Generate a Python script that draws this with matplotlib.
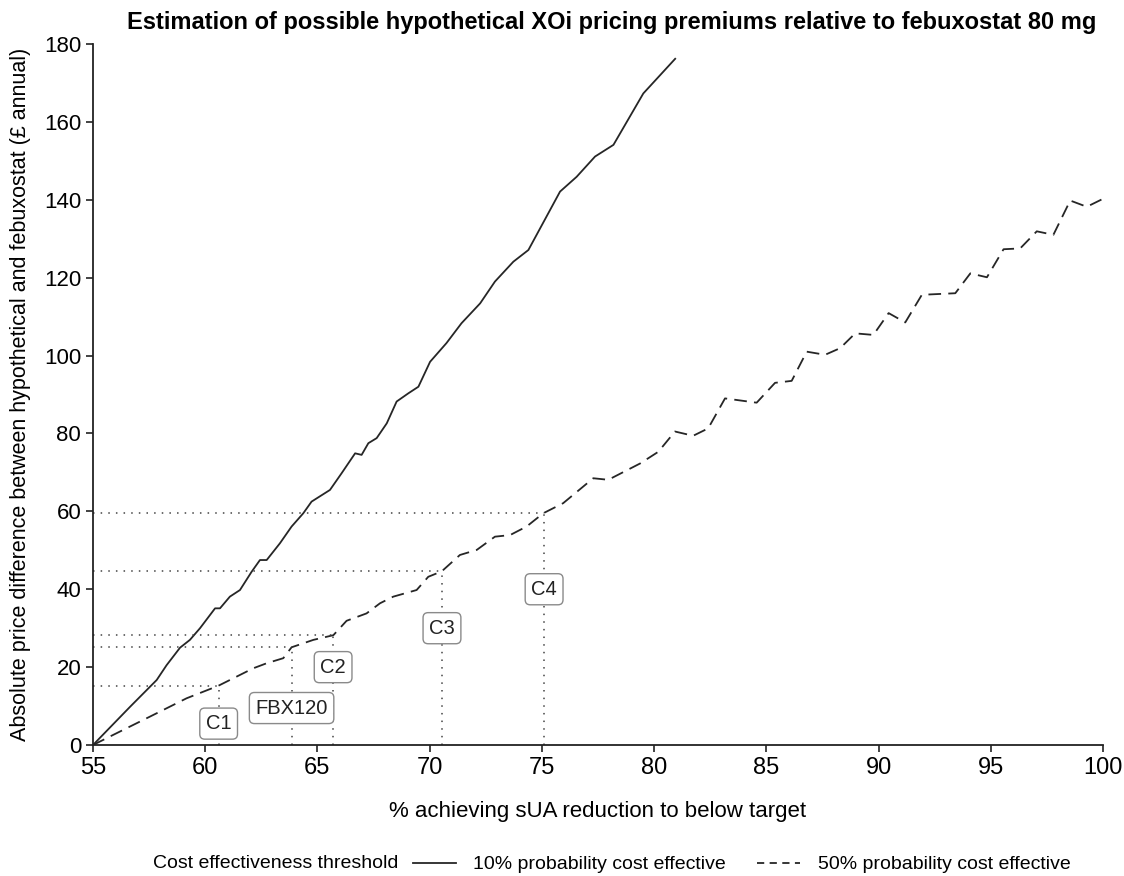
import matplotlib.pyplot as plt
from matplotlib.lines import Line2D

# 10% probability cost effective threshold
solid_x = [55, 56.65, 57.84, 58.28, 58.88, 59.32, 59.77, 60.44, 60.66, 61.10, 61.55,
           62.07, 62.44, 62.74, 63.33, 63.85, 64.37, 64.74, 65.56, 66.08, 66.68, 66.97,
           67.27, 67.64, 68.09, 68.53, 69.05, 69.50, 70.02, 70.75, 71.42, 72.25, 72.91,
           73.73, 74.40, 75.81, 76.55, 77.37, 78.19, 79.52, 80.94]
solid_y = [0, 9.8, 16.7, 20.5, 25.0, 27.0, 30.0, 35.1, 35.1, 38.1, 39.8,
           44.5, 47.5, 47.5, 51.8, 56.1, 59.5, 62.5, 65.5, 69.8, 74.9, 74.5,
           77.5, 78.8, 82.6, 88.2, 90.3, 92.0, 98.4, 103.2, 108.3, 113.4, 119.0,
           124.1, 127.1, 142.1, 145.9, 151.1, 154.1, 167.3, 176.2]

# 50% probability cost effective threshold
dashed_x = [55, 55.9, 57.54, 59.17, 60.58, 62.14, 62.74, 63.48, 63.85, 64.82, 65.71,
            66.30, 67.19, 67.79, 68.38, 69.42, 69.94, 70.54, 71.35, 72.10, 72.91, 73.58,
            74.32, 75.06, 75.95, 77.29, 77.96, 79.38, 80.19, 80.93, 81.74, 82.41, 83.16,
            84.57, 85.39, 86.13, 86.80, 87.62, 88.29, 88.96, 89.77, 90.45, 91.19, 91.93,
            93.42, 94.09, 94.83, 95.57, 96.31, 97.05, 97.79, 98.54, 99.28, 99.95]
dashed_y = [0, 2.6, 7.3, 12.0, 15.2, 19.7, 21.0, 22.3, 25.1, 27.0, 28.2,
            31.9, 33.8, 36.4, 38.1, 39.8, 43.2, 44.6, 48.8, 50.1, 53.5, 53.9,
            56.1, 59.5, 62.1, 68.5, 68.1, 72.3, 75.3, 80.5, 79.4, 81.3, 89.0,
            87.9, 93.0, 93.5, 101.0, 100.2, 101.9, 105.7, 105.3, 110.9, 108.5, 115.6,
            116.0, 121.1, 120.1, 127.3, 127.5, 131.9, 131.0, 139.8, 138.2, 140.1]

# comparator drugs
ref_names = ["C1", "FBX120", "C2", "C3", "C4"]
ref_x = [60.6, 63.85, 65.7, 70.55, 75.1]
ref_y = [15.2, 25.1, 28.2, 44.6, 59.5]
label_y = [5.5, 9.5, 20, 30, 40]

plt.rcParams["font.family"] = ["Liberation Sans", "DejaVu Sans"]

fig = plt.figure(figsize=(11.24, 8.76), dpi=100)
ax = fig.add_axes([0.0827, 0.1495, 0.8986, 0.8003])

line_col = "#262626"
ax.plot(solid_x, solid_y, color=line_col, lw=1.3, solid_joinstyle="round")
ax.plot(dashed_x, dashed_y, color=line_col, lw=1.3, dashes=(7, 4))

# dotted guides from each comparator down to the axes
for name, rx, ry, ly in zip(ref_names, ref_x, ref_y, label_y):
    ax.plot([55, rx], [ry, ry], color="#444444", lw=1.1, linestyle=(0, (1, 4)))
    ax.plot([rx, rx], [0, ry], color="#444444", lw=1.1, linestyle=(0, (1, 4)))
    ax.text(rx, ly, name, ha="center", va="center", fontsize=14.5, color="#222222",
            bbox=dict(boxstyle="round,pad=0.3,rounding_size=0.25", fc="white",
                      ec="#8a8a8a", lw=1.0))

ax.set_xlim(55, 100)
ax.set_ylim(0, 180)
ax.set_xticks(range(55, 101, 5))
ax.set_yticks(range(0, 181, 20))
for s in ["top", "right"]:
    ax.spines[s].set_visible(False)
for s in ["left", "bottom"]:
    ax.spines[s].set_linewidth(1.3)
    ax.spines[s].set_color("#222222")
ax.tick_params(direction="out", length=5, width=1.2, colors="#222222",
               labelsize=16, labelcolor="black")
for lab in ax.get_xticklabels():
    lab.set_fontsize(17)

ax.set_xlabel("% achieving sUA reduction to below target", fontsize=16, labelpad=16)
ax.set_ylabel("Absolute price difference between hypothetical and febuxostat (£ annual)",
              fontsize=15.5, labelpad=9)

fig.text(0.544, 0.974, "Estimation of possible hypothetical XOi pricing premiums relative to febuxostat 80 mg",
         ha="center", va="center", fontsize=17, fontweight="bold")

# legend along the bottom
fig.text(0.136, 0.004, "Cost effectiveness threshold", ha="left", va="bottom",
         fontsize=14)
handles = [Line2D([], [], color=line_col, lw=1.3),
           Line2D([], [], color=line_col, lw=1.3, dashes=(4, 3))]
fig.legend(handles, ["10% probability cost effective", "50% probability cost effective"],
           loc="lower left", bbox_to_anchor=(0.352, -0.017), ncol=2, frameon=False,
           handlelength=2.2, columnspacing=1.6, handletextpad=0.9,
           prop={"size": 14})

fig.savefig("out.png", dpi=100)
